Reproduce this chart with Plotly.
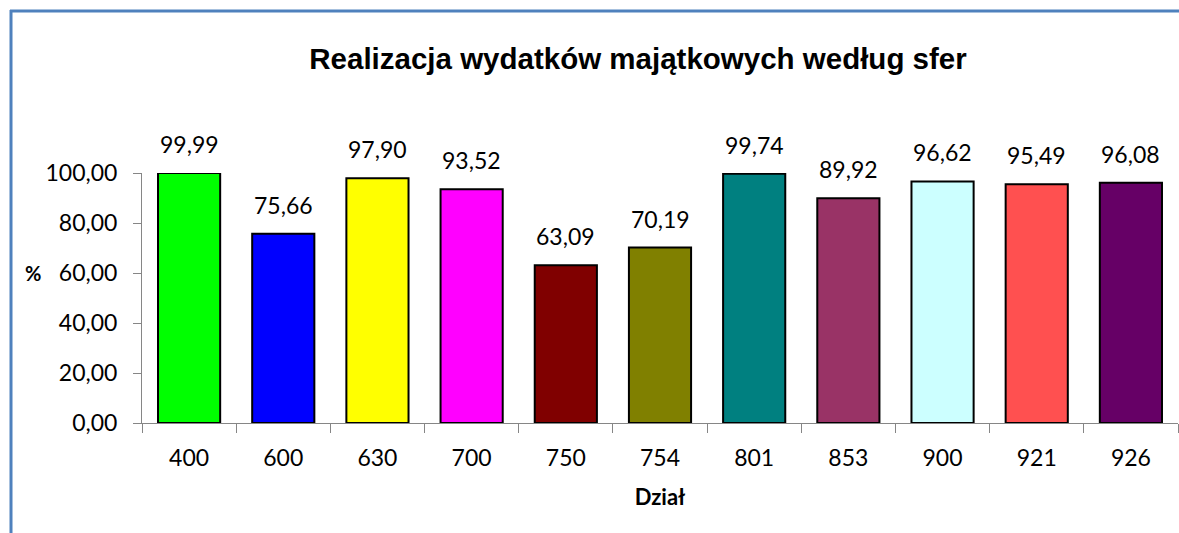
import plotly.graph_objects as go

categories = ["400", "600", "630", "700", "750", "754", "801", "853", "900", "921", "926"]
values = [99.99, 75.66, 97.90, 93.52, 63.09, 70.19, 99.74, 89.92, 96.62, 95.49, 96.08]
colors = ["#00FF00", "#0000FF", "#FFFF00", "#FF00FF", "#800000", "#808000",
          "#008080", "#993366", "#CCFFFF", "#FF5050", "#660066"]
y_ticks = [0, 20, 40, 60, 80, 100]

W, H = 1179, 533
L, R, T, B = 142, 1, 173, 110
pw, ph = W - L - R, H - T - B

def px_x(x):
    return (x - L) / pw

def px_y(y):
    return (H - B - y) / ph

fig = go.Figure(go.Bar(
    x=categories, y=values,
    marker=dict(color=colors, line=dict(color="black", width=2)),
    cliponaxis=False,
))

label_annotations = [
    dict(x=i, y=v, xref="x", yref="y", text=f"{v:.2f}".replace(".", ","),
         showarrow=False, yanchor="middle", yshift=29,
         font=dict(family="Lato", size=23, color="black"))
    for i, v in enumerate(values)
]

fig.update_layout(
    width=W, height=H,
    margin=dict(l=L, r=R, t=T, b=B),
    paper_bgcolor="white", plot_bgcolor="white",
    separators=", ",
    bargap=0.34,
    showlegend=False,
    title=dict(text="<b>Realizacja wydatków majątkowych według sfer</b>",
               font=dict(family="Liberation Sans", size=29.5, color="black"),
               x=px_x(638), xref="paper", xanchor="center",
               y=1 - 59 / H, yref="container", yanchor="middle"),
    xaxis=dict(
        type="category", tickson="boundaries", ticks="outside", ticklen=9,
        tickcolor="#868686", showline=True, linecolor="#868686", linewidth=1,
        tickfont=dict(family="Lato", size=23, color="black"), ticklabelstandoff=14,
        title=dict(text="<b>Dział</b>", font=dict(family="Lato", size=22, color="black"), standoff=20),
        showgrid=False, tickangle=0,
    ),
    yaxis=dict(
        range=[0, 100], tickvals=y_ticks, tickformat=".2f", ticks="outside", ticklen=8,
        tickcolor="#868686", showline=True, linecolor="#868686", linewidth=1,
        tickfont=dict(family="Lato", size=23, color="black"),
        showgrid=False, zeroline=False, ticklabelstandoff=11,
    ),
    annotations=label_annotations + [
        dict(text="<b>%</b>", x=px_x(33), y=px_y(273), xref="paper", yref="paper",
             xanchor="center", yanchor="middle",
             showarrow=False, font=dict(family="Lato", size=20, color="black"))],
    shapes=[
        dict(type="line", xref="paper", yref="paper", x0=px_x(11), x1=px_x(11),
             y0=px_y(10), y1=px_y(540), line=dict(color="#4F81BD", width=3)),
        dict(type="line", xref="paper", yref="paper", x0=px_x(10), x1=px_x(1190),
             y0=px_y(11), y1=px_y(11), line=dict(color="#4F81BD", width=3)),
    ],
)

fig.write_html("out.html", config={"displayModeBar": False},
               post_script="document.body.style.margin='0';")
